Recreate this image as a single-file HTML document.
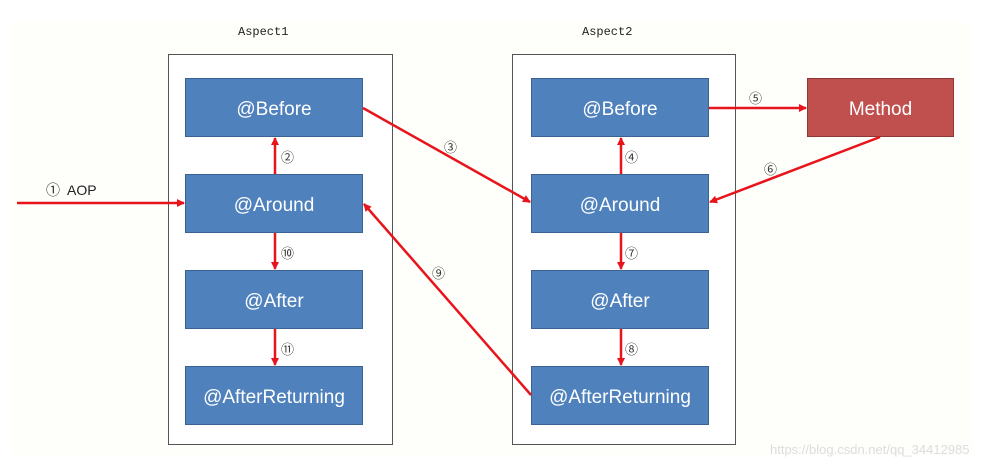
<!DOCTYPE html>
<html><head><meta charset="utf-8"><style>
body{margin:0;background:#fff;width:987px;height:459px;overflow:hidden;position:relative;font-family:"Liberation Sans","Noto Sans CJK SC",sans-serif}
.panel{position:absolute;left:12px;top:22px;width:960px;height:433px;background:#fefefb}
.asp{position:absolute;border:1px solid #555;background:#fff}
.b{position:absolute;width:176px;height:57px;box-sizing:content-box;background:#4f81bd;border:1px solid #3a6394;color:#fff;font-size:19px;display:flex;align-items:center;justify-content:center;padding-top:0;line-height:1;}
.b span{position:relative;top:2px}
.t{position:absolute;font-family:"Liberation Mono",monospace;font-size:12px;color:#222}
.n{position:absolute;font-size:13px;color:#333}
</style></head><body>
<div class="panel"></div>
<div class="t" style="left:238px;top:25px">Aspect1</div>
<div class="t" style="left:582px;top:25px">Aspect2</div>
<div class="asp" style="left:168px;top:54px;width:223px;height:389px"></div>
<div class="asp" style="left:512px;top:54px;width:222px;height:389px"></div>
<div class="b" style="left:185px;top:78px"><span>@Before</span></div>
<div class="b" style="left:185px;top:174px"><span>@Around</span></div>
<div class="b" style="left:185px;top:270px"><span>@After</span></div>
<div class="b" style="left:185px;top:366px"><span>@AfterReturning</span></div>
<div class="b" style="left:531px;top:78px"><span>@Before</span></div>
<div class="b" style="left:531px;top:174px"><span>@Around</span></div>
<div class="b" style="left:531px;top:270px"><span>@After</span></div>
<div class="b" style="left:531px;top:366px"><span>@AfterReturning</span></div>
<div class="b" style="left:807px;top:78px;width:145px;background:#c0504d;border-color:#8c3836"><span>Method</span></div>
<svg width="987" height="459" style="position:absolute;left:0;top:0">
<defs><marker id="a" markerWidth="8" markerHeight="8" refX="7" refY="4" orient="auto" markerUnits="userSpaceOnUse"><path d="M0,0 L8,4 L0,8 z" fill="#e8141c"/></marker></defs>
<g stroke="#e8141c" stroke-width="2.5" fill="none" marker-end="url(#a)">
<line x1="17" y1="203" x2="184" y2="203"/>
<line x1="275" y1="174" x2="275" y2="138"/>
<line x1="275" y1="233" x2="275" y2="269"/>
<line x1="275" y1="329" x2="275" y2="365"/>
<line x1="363" y1="108" x2="530" y2="202"/>
<line x1="621" y1="174" x2="621" y2="138"/>
<line x1="709" y1="108" x2="806" y2="108"/>
<line x1="880" y1="137" x2="710" y2="202"/>
<line x1="621" y1="233" x2="621" y2="269"/>
<line x1="621" y1="329" x2="621" y2="365"/>
<line x1="531" y1="395" x2="364" y2="204"/>
</g></svg>
<div class="n" style="left:46px;top:180px;font-size:14px;color:#222">①&nbsp; AOP</div>
<div class="n" style="left:281px;top:147px">②</div>
<div class="n" style="left:444px;top:137px">③</div>
<div class="n" style="left:625px;top:147px">④</div>
<div class="n" style="left:749px;top:88px">⑤</div>
<div class="n" style="left:764px;top:159px">⑥</div>
<div class="n" style="left:625px;top:243px">⑦</div>
<div class="n" style="left:625px;top:339px">⑧</div>
<div class="n" style="left:432px;top:263px">⑨</div>
<div class="n" style="left:281px;top:243px">⑩</div>
<div class="n" style="left:281px;top:339px">⑪</div>
<div class="n" style="left:770px;top:442px;color:#ddd;font-size:13px">https://blog.csdn.net/qq_34412985</div>
</body></html>
